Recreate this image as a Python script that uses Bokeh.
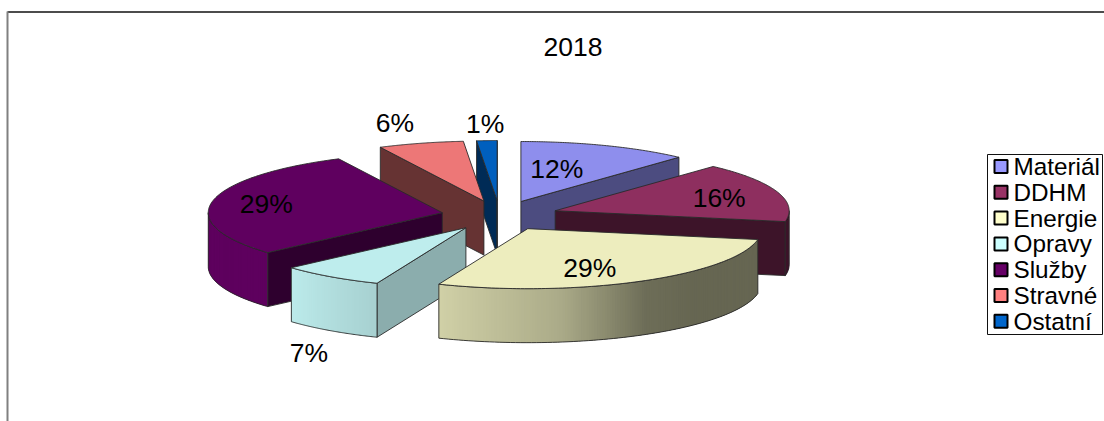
import numpy as np
from bokeh.plotting import figure
from bokeh.models import Range1d, ColumnDataSource
from bokeh.core.properties import value
from bokeh.embed import file_html
from bokeh.resources import INLINE

title = "2018"
categories = ["Materiál", "DDHM", "Energie", "Opravy", "Služby", "Stravné", "Ostatní"]
shares = [11.8, 16.1, 28.3, 7.2, 29.3, 5.9, 1.4]
labels = ["12%", "16%", "29%", "7%", "29%", "6%", "1%"]
colors = ["#9999FF", "#993366", "#FFFFCC", "#CCFFFF", "#660066", "#FF8080", "#0066CC"]

# pie projection (styles, not data)
CX, CY, RX, RY, DEPTH, EXPLODE = 499.2, 215, 234, 60, 54, 0.25
TOP_SHADE = 0.93
CUT_SHADE = [0.5, 0.4, 0.4, 0.68, 0.45, 0.4, 0.42]
DRAW_ORDER = [0, 6, 5, 1, 4, 3, 2]
LABEL_DX = [36, 164, 62, -157, -176, -89, -12]
LABEL_DY = [-33, -13, 39, 125, -9, -78, -77]
FONT = "Liberation Sans"


def shade(hex_color, f):
    r, g, b = (int(hex_color[i:i + 2], 16) for i in (1, 3, 5))
    return "#%02x%02x%02x" % (round(r * f), round(g * f), round(b * f))


def wall_shade(deg):
    return float(np.interp(deg, [90, 135, 150, 172, 203, 228, 270],
                           [.4, .4, .43, .67, .82, .92, .92]))


total = sum(shares)
edges = np.concatenate([[0], np.cumsum(shares)]) / total * 360.0

polys = {k: [] for k in ["xs", "ys", "fill", "fill_alpha", "line", "line_alpha", "line_width"]}


def add(xs, ys, fill, fill_alpha, line, line_alpha, lw):
    polys["xs"].append(list(xs))
    polys["ys"].append(list(ys))
    polys["fill"].append(fill)
    polys["fill_alpha"].append(fill_alpha)
    polys["line"].append(line)
    polys["line_alpha"].append(line_alpha)
    polys["line_width"].append(lw)


apexes = []
for i in range(len(shares)):
    mid = np.radians((edges[i] + edges[i + 1]) / 2)
    apexes.append((CX + EXPLODE * RX * np.sin(mid), CY - EXPLODE * RY * np.cos(mid)))

OUT = "#2a2a2a"
LW = 0.9
for i in DRAW_ORDER:
    a0, a1 = edges[i], edges[i + 1]
    ax, ay = apexes[i]
    col = colors[i]

    def pt(deg):
        r = np.radians(deg)
        return ax + RX * np.sin(r), ay - RY * np.cos(r)

    # visible cut faces
    for deg, visible in ((a0, np.sin(np.radians(a0)) < 0), (a1, np.sin(np.radians(a1)) > 0)):
        if visible:
            x, y = pt(deg)
            add([ax, x, x, ax], [ay, y, y + DEPTH, ay + DEPTH], shade(col, CUT_SHADE[i]), 1.0, OUT, 1.0, LW)

    # outer wall: overlapping bands, so that no background shows between them
    lo, hi = max(a0, 90.0), min(a1, 270.0)
    if hi > lo:
        grid = np.linspace(lo, hi, max(2, int((hi - lo) * 1.5)) + 1)
        for k in range(len(grid) - 1):
            d0 = grid[k]
            d1 = grid[min(k + 3, len(grid) - 1)]
            sub = np.linspace(d0, d1, 5)
            xs = [pt(d)[0] for d in sub]
            ys = [pt(d)[1] for d in sub]
            c = shade(col, wall_shade((grid[k] + grid[k + 1]) / 2))
            add(xs + xs[::-1], ys + [v + DEPTH for v in ys[::-1]], c, 1.0, c, 0.0, 0.1)
        ga = np.linspace(lo, hi, 80)
        wx = [pt(d)[0] for d in ga]
        wy = [pt(d)[1] for d in ga]
        add(wx + wx[::-1], wy + [v + DEPTH for v in wy[::-1]], col, 0.0, OUT, 1.0, LW)

    # top face
    ga = np.linspace(a0, a1, 100)
    add([ax] + [pt(d)[0] for d in ga], [ay] + [pt(d)[1] for d in ga],
        shade(col, TOP_SHADE), 1.0, OUT, 1.0, LW)

p = figure(width=1104, height=421, output_backend="svg", toolbar_location=None,
           x_range=Range1d(0, 1104), y_range=Range1d(421, 0),
           min_border=0, outline_line_color=None, background_fill_color="white")
p.axis.visible = False
p.grid.visible = False
p.styles = {"position": "absolute", "left": "0", "top": "0"}

# chart frame
p.segment([7], [11.5], [1104], [11.5], line_color="#111111", line_width=1.3)
p.segment([7], [11], [7], [421], line_color="#808080", line_width=2)

p.patches("xs", "ys", source=ColumnDataSource(polys), fill_color="fill", fill_alpha="fill_alpha",
          line_color="line", line_alpha="line_alpha", line_width="line_width", line_join="round")

# percentage labels
p.text([a[0] + dx for a, dx in zip(apexes, LABEL_DX)],
       [a[1] + dy for a, dy in zip(apexes, LABEL_DY)],
       text=labels,
       text_font=value(FONT), text_font_size="26.5px", text_color="#000000",
       text_align="center", text_baseline="middle")

# title
p.text([572.5], [46.5], text=[title], text_font=value(FONT), text_font_size="26.5px",
       text_color="#000000", text_align="center", text_baseline="middle")

# legend
LX0, LX1, LY0, LY1 = 987, 1102, 154, 334
ROW0, ROW = 166, 25.8
p.quad(left=[LX0], right=[LX1], top=[LY0], bottom=[LY1], fill_color="white",
       line_color="#111111", line_width=1)
rows = [ROW0 + ROW * k for k in range(len(categories))]
p.quad(left=[994] * 7, right=[1007] * 7, top=[r - 6.5 for r in rows], bottom=[r + 6.5 for r in rows],
       fill_color=colors, line_color="#000000", line_width=2)
p.text([1013] * 7, rows, text=categories, text_font=value(FONT), text_font_size="24.3px",
       text_color="#000000", text_align="left", text_baseline="middle")

open("out.html", "w").write(file_html(p, INLINE))
